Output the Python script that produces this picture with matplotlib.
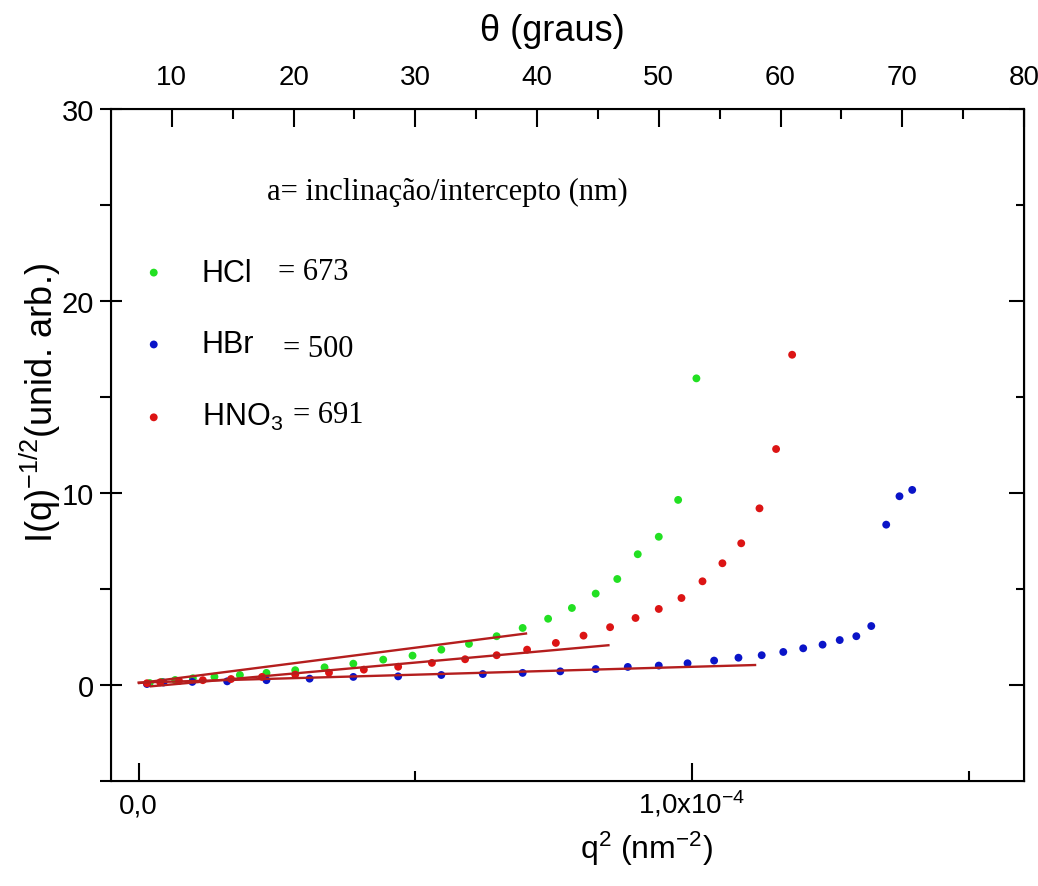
import numpy as np
import matplotlib.pyplot as plt

plt.rcParams['font.family'] = ['Liberation Sans', 'DejaVu Sans']
plt.rcParams['mathtext.fontset'] = 'custom'
plt.rcParams['mathtext.rm'] = 'Liberation Sans'
plt.rcParams['mathtext.it'] = 'Liberation Sans:italic'

# =============================================================================
# data (q^2 in units of 1e-4 nm^-2)
# =============================================================================
hcl_q2 = [0.020, 0.042, 0.066, 0.098, 0.137, 0.183, 0.231, 0.283, 0.336, 0.388,
          0.442, 0.495, 0.547, 0.597, 0.647, 0.694, 0.740, 0.783, 0.826, 0.865,
          0.902, 0.940, 0.975, 1.008]
hcl_y = [0.10, 0.16, 0.26, 0.35, 0.43, 0.52, 0.63, 0.77, 0.92, 1.11,
         1.32, 1.53, 1.84, 2.14, 2.54, 2.97, 3.45, 4.01, 4.76, 5.52,
         6.81, 7.72, 9.64, 15.97]

hbr_q2 = [0.015, 0.045, 0.097, 0.160, 0.231, 0.309, 0.388, 0.469, 0.547, 0.622,
          0.694, 0.762, 0.826, 0.884, 0.940, 0.992, 1.040, 1.084, 1.126, 1.165,
          1.201, 1.236, 1.267, 1.297, 1.324, 1.351, 1.375, 1.398]
hbr_y = [0.05, 0.13, 0.16, 0.19, 0.25, 0.33, 0.42, 0.45, 0.52, 0.57,
         0.63, 0.71, 0.83, 0.94, 1.01, 1.13, 1.27, 1.42, 1.55, 1.72,
         1.91, 2.10, 2.34, 2.54, 3.07, 8.35, 9.83, 10.16]

hno3_q2 = [0.015, 0.039, 0.073, 0.116, 0.167, 0.223, 0.283, 0.344, 0.407, 0.469,
           0.530, 0.590, 0.647, 0.702, 0.754, 0.804, 0.852, 0.898, 0.940, 0.981,
           1.019, 1.055, 1.089, 1.122, 1.152, 1.181]
hno3_y = [0.09, 0.14, 0.21, 0.25, 0.31, 0.42, 0.54, 0.64, 0.80, 0.95,
          1.15, 1.34, 1.55, 1.84, 2.19, 2.57, 3.01, 3.49, 3.96, 4.53,
          5.40, 6.34, 7.38, 9.20, 12.29, 17.20]

# linear fits (end points)
fit_hcl_q2 = [0.001, 0.700]
fit_hcl_y = [0.10, 2.68]
fit_hno3_q2 = [0.022, 0.849]
fit_hno3_y = [-0.07, 2.07]
fit_hbr_q2 = [0.0, 1.114]
fit_hbr_y = [0.125, 1.04]

names = ['HCl', 'HBr', 'HNO$_{\\mathregular{3}}$']
a_values = [673, 500, 691]

theta_ticks = [10, 20, 30, 40, 50, 60, 70, 80]

# =============================================================================
# plot
# =============================================================================
fig = plt.figure(figsize=(10.38, 8.87), dpi=100)
ax = fig.add_axes([0.1069, 0.1184, 0.8796, 0.7576])

green = '#22E022'
blue = '#0A14C8'
red = '#DC1414'
fitc = '#B41E1E'

s1 = ax.scatter(np.array(hcl_q2) * 1e-4, hcl_y, s=32, color=green, edgecolors='none', zorder=3)
s2 = ax.scatter(np.array(hbr_q2) * 1e-4, hbr_y, s=32, color=blue, edgecolors='none', zorder=3)
s3 = ax.scatter(np.array(hno3_q2) * 1e-4, hno3_y, s=32, color=red, edgecolors='none', zorder=3)

for fq, fy in [(fit_hcl_q2, fit_hcl_y), (fit_hno3_q2, fit_hno3_y), (fit_hbr_q2, fit_hbr_y)]:
    ax.plot(np.array(fq) * 1e-4, fy, color=fitc, lw=1.7, zorder=4)

ax.set_xlim(-0.05e-4, 1.6e-4)
ax.set_ylim(-5, 30)

for sp in ax.spines.values():
    sp.set_linewidth(1.5)

# bottom axis
ax.set_xticks([0, 1e-4])
ax.set_xticklabels(['0,0', r'1,0x10$^{\mathregular{-4}}$'])
ax.set_xticks([0.5e-4, 1.5e-4], minor=True)
ax.tick_params(axis='x', which='both', direction='in', top=False, labelsize=20, pad=23, width=1.5)
ax.tick_params(axis='x', which='major', length=13)
ax.tick_params(axis='x', which='minor', length=7)
for lbl in ax.get_xticklabels():
    lbl.set_va('baseline')
ax.set_xlabel(r'q$^{\mathregular{2}}$ (nm$^{\mathregular{-2}}$)', fontsize=23)
ax.xaxis.set_label_coords(0.587, -0.071)

# left axis
ax.set_yticks([0, 10, 20, 30])
ax.set_yticks([-5, 5, 15, 25], minor=True)
ax.tick_params(axis='y', which='major', direction='inout', length=16, width=1.5, labelsize=21, pad=4)
ax.tick_params(axis='y', which='minor', direction='out', length=8, width=1.5)
ax.set_ylabel(r'I(q)$^{\mathregular{-1/2}}$(unid. arb.)', fontsize=26)
ax.yaxis.set_label_coords(-0.052, 0.564)

# right axis (ticks only)
axr = ax.secondary_yaxis('right')
axr.set_yticks([0, 10, 20, 30])
axr.set_yticks([5, 15, 25], minor=True)
axr.tick_params(which='major', direction='in', length=11, width=1.5, labelright=False)
axr.tick_params(which='minor', direction='in', length=6, width=1.5)

# top axis in degrees
ax2 = ax.twiny()
ax2.set_xlim(5, 80)
ax2.set_xticks(theta_ticks)
ax2.set_xticks([15, 25, 35, 45, 55, 65, 75], minor=True)
ax2.tick_params(axis='x', which='both', direction='in', width=1.5, labelsize=20, pad=14)
ax2.tick_params(axis='x', which='major', length=13)
ax2.tick_params(axis='x', which='minor', length=7)
ax2.set_xlabel('θ (graus)', fontsize=26)
ax2.xaxis.set_label_coords(0.484, 1.102)

# legend-like annotations
leg = ax.legend([s1, s2, s3], names, loc='upper left', bbox_to_anchor=(0.0, 0.797),
                frameon=False, fontsize=22, handletextpad=0.57, labelspacing=1.37,
                markerscale=1.0, borderaxespad=0)

ax.text(0.171, 0.878, 'a= inclinação/intercepto (nm)', transform=ax.transAxes,
        family='Liberation Serif', fontsize=22, va='center')
for txt, yy, xx in zip(a_values, [0.747, 0.632, 0.534], [0.183, 0.188, 0.199]):
    ax.text(xx, yy, '= %d' % txt, transform=ax.transAxes,
            family='Liberation Serif', fontsize=22, va='baseline')

fig.savefig('out.png', dpi=100)
